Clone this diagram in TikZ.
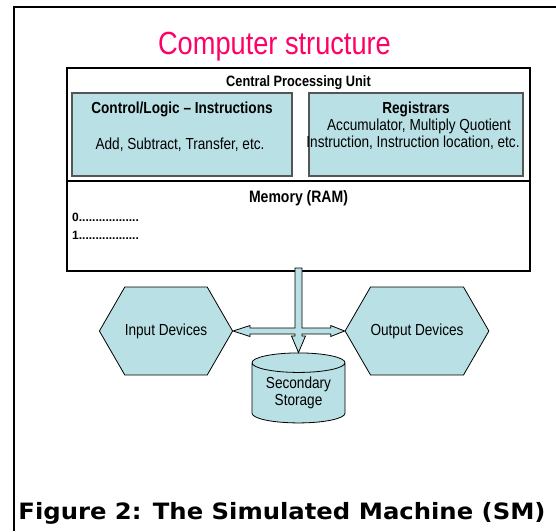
\documentclass[tikz,border=0pt]{standalone}
\usepackage{fontspec}
\setmainfont{Liberation Sans}
\newfontfamily\narrowsans[FakeStretch=0.85]{Liberation Sans}
\newfontfamily\capfont[FakeStretch=1.08]{DejaVu Sans}
\usetikzlibrary{positioning,calc,shapes.geometric,shapes.symbols}
\definecolor{smCyan}{RGB}{185,224,228}
\definecolor{smPink}{RGB}{255,0,102}
\definecolor{smGrey}{RGB}{85,85,85}
\tikzset{
  unit/.style={draw=black, line width=1.3pt, minimum width=463pt, inner sep=0pt, outer sep=0pt},
  part/.style={draw=smGrey, fill=smCyan, line width=1.2pt, minimum height=83pt, inner sep=0pt},
  hd/.style={font=\narrowsans\bfseries\fontsize{16}{19}\selectfont, inner sep=0pt, anchor=base},
  txt/.style={font=\narrowsans\fontsize{16}{17}\selectfont, align=center, inner sep=0pt},
  dots/.style={font=\bfseries\fontsize{12}{14}\selectfont, inner sep=0pt, anchor=base west},
  dev/.style={signal, signal to=west and east, signal pointer angle=120, draw=black,
              fill=smCyan, line width=0.8pt, minimum width=122pt, minimum height=88pt, txt},
  disk/.style={cylinder, shape border rotate=90, aspect=0.3, draw=black, fill=smCyan,
               line width=0.8pt, minimum width=93pt, minimum height=70pt, txt},
  bus/.style={draw=black, fill=smCyan, line width=0.8pt, line join=miter},
}
\begin{document}
\begin{tikzpicture}[x=1pt, y=-1pt]
\useasboundingbox (0,0) rectangle (556,531);
% page frame, cut off at right and bottom
\draw[line width=2.5pt] (14,531) -- (14,7) -- (556,7);
\node[font=\narrowsans\fontsize{32}{40}\selectfont, text=smPink, inner sep=0pt, anchor=base] (title) at (274.5,54) {Computer structure};

\node[unit, minimum height=113pt] (cpu) at (298.5,124.5) {};
\node[unit, minimum height=90pt, below=0pt of cpu] (ram) {};
\node[hd, font=\narrowsans\bfseries\fontsize{15}{18}\selectfont] (cpuhd) at (298.5,86) {Central Processing Unit};

\node[part, minimum width=220pt] (ctl) at (182,134.5) {};
\node[part, minimum width=214pt] (reg) at (416,134.5) {};
\node[hd] (ctlhd) at (182,113) {Control/Logic – Instructions};
\node[txt, anchor=base] (ctltx) at (180,149) {Add, Subtract, Transfer, etc.};
\node[hd] (reghd) at (416,113) {Registrars};
\node[txt, anchor=base] (regtx) at (419,130) {Accumulator, Multiply Quotient};
\node[txt, anchor=base] (regtx2) at (413,147) {Instruction, Instruction location, etc.};

\node[hd, font=\narrowsans\bfseries\fontsize{16.5}{19}\selectfont] (ramhd) at (298.5,202) {Memory (RAM)};
\node[dots] (m0) at (72,221) {0..................};
\node[dots] (m1) at (72,239) {1..................};

\node[dev] (in) at (166,331) {Input Devices};
\node[dev] (out) at (417,331) {Output Devices};
\node[disk] (store) at (298.5,393) {Secondary\\Storage};

\coordinate (j) at (ram.south |- in.east);
\draw[bus] ($(ram.south)+(-3.5,-3)$) -- ($(j)+(-3.5,-3)$) -- ($(in.east)+(17,-3)$)
  -- ($(in.east)+(17,-5.5)$) -- (in.east) -- ($(in.east)+(17,5.5)$) -- ($(in.east)+(17,3)$)
  -- ($(j)+(-3.5,3)$) -- ($(j)+(-3.5,5)$) -- ($(j)+(-7,5)$) -- (store.north)
  -- ($(j)+(7,5)$) -- ($(j)+(3.5,5)$) -- ($(j)+(3.5,3)$) -- ($(out.west)+(-14,3)$)
  -- ($(out.west)+(-14,5.5)$) -- (out.west) -- ($(out.west)+(-14,-5.5)$) -- ($(out.west)+(-14,-3)$)
  -- ($(j)+(3.5,-3)$) -- ($(ram.south)+(3.5,-3)$) -- cycle;

\node[font=\capfont\bfseries\fontsize{22.5}{26}\selectfont, inner sep=0pt, anchor=base] (cap) at (282,519) {Figure 2: The Simulated Machine (SM)};
\end{tikzpicture}
\end{document}
